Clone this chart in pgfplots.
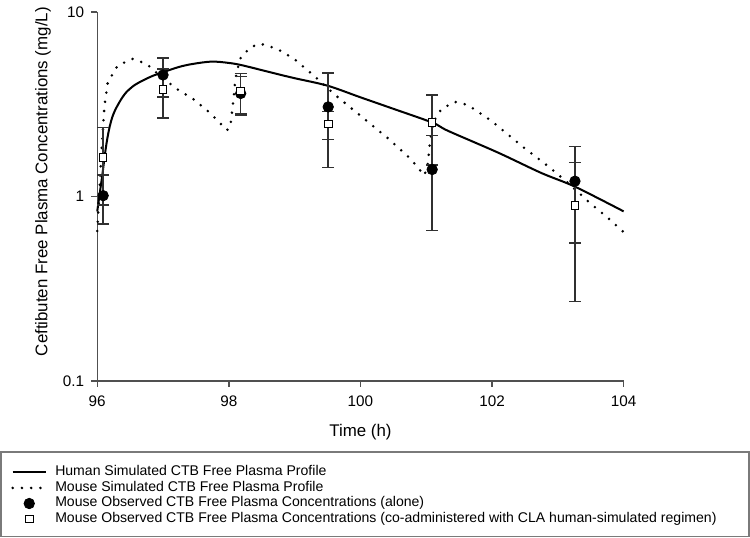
\documentclass[border=0pt]{standalone}
\usepackage{pgfplots}
\pgfplotsset{compat=1.18}
\usepackage{fontspec}
\setmainfont{Liberation Sans}
\definecolor{axgray}{HTML}{505050}
\definecolor{errgray}{HTML}{303030}
\definecolor{boxgray}{HTML}{7A7A7A}
\begin{document}
\begin{tikzpicture}
\begin{axis}[
  scale only axis,
  width=262pt, height=183.5pt,
  ymode=log,
  xmin=96, xmax=104, ymin=0.1, ymax=10,
  xtick={96,98,100,102,104},
  ytick={0.1,1,10}, yticklabels={0.1,1,10},
  yminorticks=false, xminorticks=false,
  axis x line*=bottom, axis y line*=left,
  axis line style={-, axgray, line width=0.7pt},
  tick style={axgray, line width=0.7pt},
  tick align=outside, major tick length=3pt,
  /pgf/number format/assume math mode=true,
  tick label style={font=\fontsize{7.6}{9}\selectfont},
  xticklabel style={yshift=-1pt},
  xlabel={Time (h)},
  ylabel={Ceftibuten Free Plasma Concentrations (mg/L)},
  label style={font=\fontsize{8.4}{10}\selectfont},
  xlabel style={at={(axis description cs:0.5,-0.139)}, anchor=center},
  ylabel style={at={(axis description cs:-0.103,0.54)}, anchor=center},
  clip=false,
  legend cell align=left,
  legend image code/.code={\draw[mark repeat=2,mark phase=2,#1] plot coordinates {(0pt,0pt) (8.25pt,0pt) (16.5pt,0pt)};},
  legend style={at={(axis description cs:-0.1641,-0.2262)}, anchor=north west,
    draw=none, fill=none, inner sep=0pt, column sep=4pt,
    nodes={inner sep=0pt, text height=5.5pt, text depth=2.25pt, font=\fontsize{7}{8}\selectfont}},
]
\addplot[black, line width=1pt, smooth, tension=0.5] coordinates {
(96.00,0.83) (96.04,1.05) (96.08,1.33) (96.12,1.72) (96.15,2.03) (96.19,2.40)
(96.23,2.70) (96.27,2.93) (96.31,3.12) (96.36,3.35) (96.44,3.67) (96.56,4.00)
(96.70,4.27) (96.85,4.52) (97.00,4.72) (97.25,5.05) (97.46,5.24) (97.74,5.39)
(98.00,5.30) (98.22,5.13) (98.73,4.62) (99.00,4.38) (99.50,3.99) (100.00,3.45)
(100.51,2.98) (101.10,2.51) (101.33,2.27) (102.09,1.73) (102.75,1.34) (103.26,1.13) (104.00,0.83)
};
\addlegendentry{Human Simulated CTB Free Plasma Profile}
\addplot[black, line width=1.4pt, line cap=round, dash pattern=on 0pt off 4.6pt] coordinates {
(96.00,0.65) (96.04,1.2) (96.07,1.88) (96.11,3.10) (96.16,4.16) (96.31,5.13)
(96.54,5.58) (96.75,5.24) (96.95,4.53) (97.21,3.83) (97.46,3.37) (97.71,2.85)
(97.97,2.29) (98.02,2.36) (98.06,3.10) (98.10,4.34) (98.17,5.58) (98.33,6.46)
(98.48,6.74) (98.73,6.33) (98.99,5.58) (99.29,4.53) (99.60,3.59) (100.00,2.74)
(100.41,2.08) (100.77,1.59) (100.97,1.30) (101.02,1.46) (101.05,1.88) (101.10,2.51)
(101.23,2.98) (101.43,3.26) (101.63,3.14) (101.99,2.57) (102.45,1.88) (102.85,1.46)
(103.16,1.18) (103.46,0.94) (103.77,0.76) (104.00,0.64)
};
\addlegendentry{Mouse Simulated CTB Free Plasma Profile}
\addplot[only marks, mark=*, mark size=2.6pt, black,
  error bars/.cd, y dir=both, y explicit,
  error bar style={errgray, line width=0.7pt},
  error mark options={rotate=90, mark size=3pt, errgray, line width=0.7pt}]
  coordinates {
(96.09,1.01) +- (0,0.30)
(97.00,4.56) +- (0,1.09)
(98.18,3.62) +- (0,0.87)
(99.51,3.06) +- (0,1.62)
(101.09,1.40) +- (0,0.745)
(103.26,1.21) +- (0,0.65)
};
\addlegendentry{Mouse Observed CTB Free Plasma Concentrations (alone)}
\addplot[only marks, mark=square*, mark size=1.9pt, draw=black, fill=white, line width=0.5pt,
  error bars/.cd, y dir=both, y explicit,
  error bar style={errgray, line width=0.7pt},
  error mark options={rotate=90, mark size=3pt, errgray, line width=0.7pt}]
  coordinates {
(96.09,1.63) +- (0,0.73)
(97.00,3.79) +- (0,1.13)
(98.18,3.73) +- (0,0.93)
(99.51,2.47) +- (0,0.43)
(101.09,2.52) +- (0,1.04)
(103.26,0.896) +- (0,0.627)
};
\addlegendentry{Mouse Observed CTB Free Plasma Concentrations (co-administered with CLA human-simulated regimen)}
\draw[boxgray, line width=0.8pt] (rel axis cs:-0.1832,-0.1935) rectangle (rel axis cs:1.2385,-0.4223);
\end{axis}
\end{tikzpicture}
\end{document}
